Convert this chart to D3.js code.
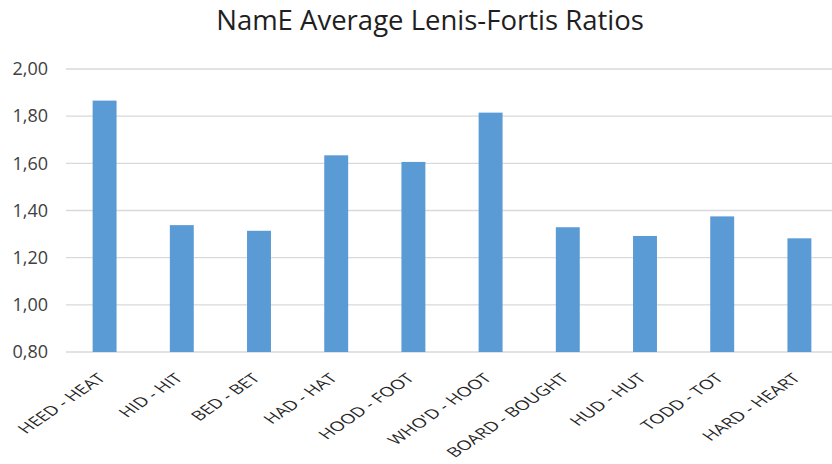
<!DOCTYPE html>
<html>
<head>
<meta charset="utf-8">
<script src="https://cdn.jsdelivr.net/npm/d3@7"></script>
<style>
  body { margin: 0; background: #fff; }
  svg { display: block; }
</style>
</head>
<body>
<div id="chart"></div>
<script>
const categories = ["HEED - HEAT", "HID - HIT", "BED - BET", "HAD - HAT", "HOOD - FOOT",
  "WHO'D - HOOT", "BOARD - BOUGHT", "HUD - HUT", "TODD - TOT", "HARD - HEART"];
const ratios = [1.866, 1.338, 1.314, 1.634, 1.606, 1.815, 1.329, 1.292, 1.375, 1.282];
const yTicks = [0.8, 1.0, 1.2, 1.4, 1.6, 1.8, 2.0];

const width = 832;
const height = 464;
const margin = { top: 69, right: -6, bottom: 112, left: 66 };

const svg = d3.select("#chart")
  .append("svg")
  .attr("width", width)
  .attr("height", height);

const x = d3.scaleBand()
  .domain(categories)
  .range([margin.left, width - margin.right])
  .paddingInner(0.69)
  .paddingOuter(0.345);

const y = d3.scaleLinear()
  .domain([0.8, 2.0])
  .range([height - margin.bottom, margin.top]);

const fmt = d => d3.format(".2f")(d).replace(".", ",");

// gridlines
svg.append("g")
  .selectAll("line")
  .data(yTicks)
  .join("line")
  .attr("x1", margin.left)
  .attr("x2", width - margin.right)
  .attr("y1", d => y(d))
  .attr("y2", d => y(d))
  .attr("stroke", "#d9d9d9")
  .attr("stroke-width", 1.3);

// y axis labels
const yAxis = svg.append("g")
  .attr("transform", `translate(${margin.left - 18},0)`)
  .call(d3.axisLeft(y).tickValues(yTicks).tickFormat(fmt).tickSize(0).tickPadding(0));
yAxis.select(".domain").remove();
yAxis.selectAll("text")
  .attr("font-family", "'Open Sans', sans-serif")
  .attr("font-size", 18)
  .attr("fill", "#404040");

// bars
svg.append("g")
  .selectAll("rect")
  .data(ratios)
  .join("rect")
  .attr("x", (d, i) => x(categories[i]))
  .attr("y", d => y(d))
  .attr("width", x.bandwidth())
  .attr("height", d => y(0.8) - y(d))
  .attr("fill", "#5b9bd5");

// x axis labels (rotated, stretched like the original)
const xAxis = svg.append("g")
  .attr("transform", `translate(0,${height - margin.bottom})`)
  .call(d3.axisBottom(x).tickSize(0).tickPadding(0));
xAxis.select(".domain").remove();
xAxis.selectAll("text")
  .attr("font-family", "'Open Sans', sans-serif")
  .attr("font-size", 15)
  .attr("fill", "#262626")
  .attr("text-anchor", "end")
  .attr("dy", 0)
  .attr("transform", "translate(2,27) scale(1.29,0.89) rotate(-45)");

// title
svg.append("text")
  .attr("x", 430)
  .attr("y", 30)
  .attr("text-anchor", "middle")
  .attr("font-family", "'Open Sans', sans-serif")
  .attr("font-size", 27.5)
  .attr("fill", "#1f1f1f")
  .text("NamE Average Lenis-Fortis Ratios");
</script>
</body>
</html>
